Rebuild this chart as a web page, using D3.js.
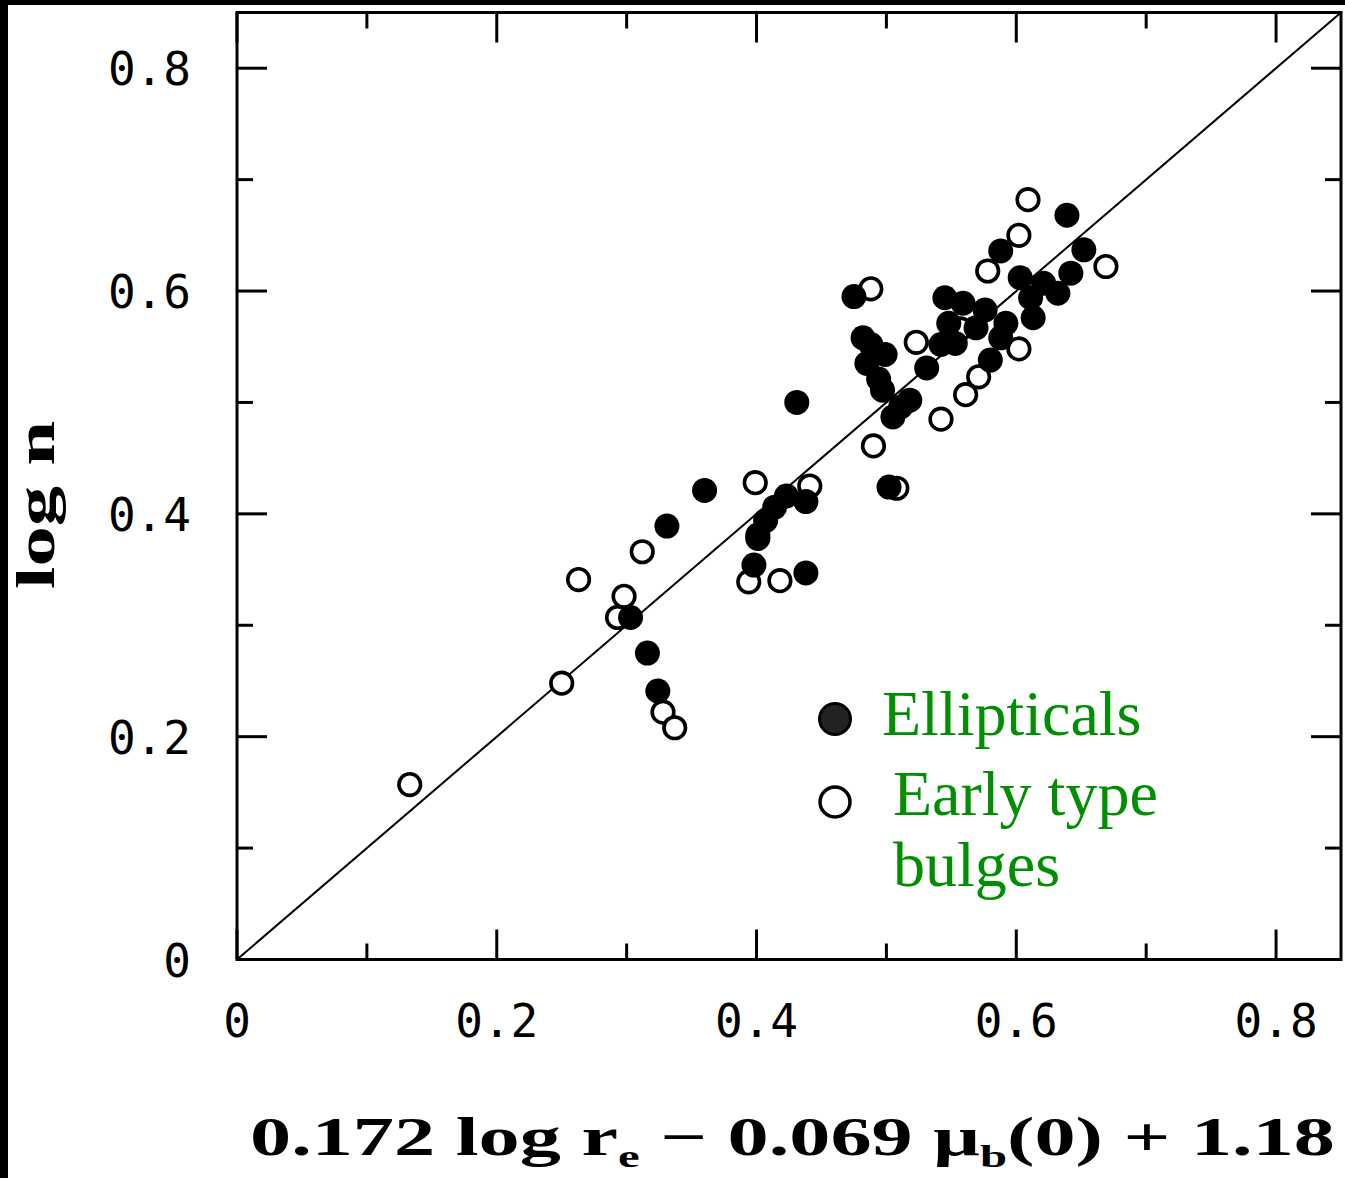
<!DOCTYPE html>
<html>
<head>
<meta charset="utf-8">
<script src="https://cdn.jsdelivr.net/npm/d3@7"></script>
<style>
  html, body { margin: 0; padding: 0; background: #fff; }
  svg { display: block; }
</style>
</head>
<body>
<svg id="chart" width="1345" height="1178"></svg>
<script>
// Ellipticals (filled symbols)
const ellX = [0.303, 0.316, 0.324, 0.331, 0.360, 0.431, 0.398, 0.438, 0.438, 0.414, 0.407, 0.401, 0.423,
              0.475, 0.488, 0.485, 0.494, 0.499, 0.502, 0.511, 0.518, 0.505, 0.531, 0.545, 0.548, 0.559,
              0.569, 0.576, 0.588, 0.580, 0.542, 0.588, 0.639, 0.603, 0.611, 0.621, 0.632, 0.642, 0.652, 0.613,
              0.482, 0.497, 0.553, 0.592];
const ellY = [0.307, 0.275, 0.241, 0.389, 0.421, 0.500, 0.354, 0.347, 0.411, 0.406, 0.394, 0.381, 0.416,
              0.595, 0.552, 0.535, 0.521, 0.543, 0.424, 0.496, 0.502, 0.487, 0.531, 0.594, 0.571, 0.589,
              0.567, 0.583, 0.558, 0.538, 0.552, 0.636, 0.668, 0.612, 0.594, 0.607, 0.598, 0.616, 0.637, 0.576,
              0.558, 0.511, 0.553, 0.571];

// Early type bulges (open symbols)
const bulgeX = [0.133, 0.250, 0.263, 0.298, 0.293, 0.312, 0.328, 0.337, 0.399, 0.394, 0.418, 0.441, 0.401,
                0.488, 0.490, 0.508, 0.523, 0.542, 0.561, 0.571, 0.578, 0.602, 0.602, 0.609, 0.669, 0.557];
const bulgeY = [0.157, 0.248, 0.341, 0.326, 0.307, 0.366, 0.222, 0.208, 0.428, 0.339, 0.340, 0.425, 0.378,
                0.602, 0.461, 0.423, 0.554, 0.485, 0.507, 0.523, 0.618, 0.548, 0.650, 0.682, 0.622, 0.566];

// Axis ticks
const majorTicks = [0, 0.2, 0.4, 0.6, 0.8];
const minorTicks = [0.1, 0.3, 0.5, 0.7];
const tickLabels = ["0", "0.2", "0.4", "0.6", "0.8"];

const svg = d3.select("#chart");

// black edge strips
svg.append("rect").attr("x", 0).attr("y", 0).attr("width", 8).attr("height", 1178).attr("fill", "#000");
svg.append("rect").attr("x", 0).attr("y", 0).attr("width", 1345).attr("height", 5).attr("fill", "#000");

const pLeft = 237, pRight = 1341, pTop = 12.5, pBottom = 959.5;
const x = d3.scaleLinear().domain([0, 0.85]).range([pLeft, pRight]);
const y = d3.scaleLinear().domain([0, 0.85]).range([pBottom, pTop]);

const g = svg.append("g");

// one-to-one relation
g.append("line")
  .attr("x1", x(0)).attr("y1", y(0))
  .attr("x2", x(0.85)).attr("y2", y(0.85))
  .attr("stroke", "#000").attr("stroke-width", 2);

// markers
const bulges = bulgeX.map((v, i) => [v, bulgeY[i]]);
const ells = ellX.map((v, i) => [v, ellY[i]]);

g.selectAll("circle.bulge").data(bulges).join("circle")
  .attr("class", "bulge")
  .attr("cx", d => x(d[0])).attr("cy", d => y(d[1])).attr("r", 10.8)
  .attr("fill", "#fff").attr("stroke", "#000").attr("stroke-width", 3.6);

g.selectAll("circle.ell").data(ells).join("circle")
  .attr("class", "ell")
  .attr("cx", d => x(d[0])).attr("cy", d => y(d[1])).attr("r", 12.5)
  .attr("fill", "#000");

// frame with ticks on all four sides
const frame = svg.append("g").attr("stroke", "#000").attr("fill", "none");
frame.append("rect")
  .attr("x", pLeft).attr("y", pTop).attr("width", pRight - pLeft).attr("height", pBottom - pTop)
  .attr("stroke-width", 3);

const LONG = 30, SHORT = 16;
const tickSets = [[majorTicks, LONG], [minorTicks, SHORT]];
tickSets.forEach(([ticks, len]) => {
  ticks.forEach(t => {
    // bottom & top
    frame.append("line").attr("x1", x(t)).attr("x2", x(t)).attr("y1", pBottom).attr("y2", pBottom - len).attr("stroke-width", 3);
    frame.append("line").attr("x1", x(t)).attr("x2", x(t)).attr("y1", pTop).attr("y2", pTop + len).attr("stroke-width", 3);
    // left & right
    frame.append("line").attr("y1", y(t)).attr("y2", y(t)).attr("x1", pLeft).attr("x2", pLeft + len).attr("stroke-width", 3);
    frame.append("line").attr("y1", y(t)).attr("y2", y(t)).attr("x1", pRight).attr("x2", pRight - len).attr("stroke-width", 3);
  });
});

// tick labels
const tickFont = "'DejaVu Sans Mono', monospace";
svg.append("g").selectAll("text").data(majorTicks).join("text")
  .attr("x", d => x(d)).attr("y", 1021)
  .attr("text-anchor", "middle").attr("dominant-baseline", "central")
  .attr("font-family", tickFont).attr("font-size", 46)
  .text((d, i) => tickLabels[i]);

svg.append("g").selectAll("text").data(majorTicks).join("text")
  .attr("x", 191).attr("y", d => y(d) + 1)
  .attr("text-anchor", "end").attr("dominant-baseline", "central")
  .attr("font-family", tickFont).attr("font-size", 46)
  .text((d, i) => tickLabels[i]);

// axis titles
const titleFont = "'Liberation Serif', 'Times New Roman', serif";
const xt = svg.append("text")
  .attr("x", 250).attr("y", 1155)
  .attr("font-family", titleFont).attr("font-weight", "bold")
  .attr("font-size", 54)
  .attr("textLength", 1085).attr("lengthAdjust", "spacingAndGlyphs");
xt.append("tspan").text("0.172 log r");
xt.append("tspan").attr("font-size", 32).attr("dy", 12).text("e");
xt.append("tspan").attr("dy", -12).text(" \u2212 0.069 \u03bc");
xt.append("tspan").attr("font-size", 32).attr("dy", 12).text("b");
xt.append("tspan").attr("dy", -12).text("(0) + 1.18");

svg.append("text")
  .attr("transform", "translate(54,505) rotate(-90)")
  .attr("text-anchor", "middle")
  .attr("font-family", titleFont).attr("font-weight", "bold")
  .attr("font-size", 54)
  .attr("textLength", 168).attr("lengthAdjust", "spacingAndGlyphs")
  .text("log n");

// legend
const legend = svg.append("g");
legend.append("circle").attr("cx", 835).attr("cy", 719).attr("r", 15.5)
  .attr("fill", "#222").attr("stroke", "#000").attr("stroke-width", 3);
legend.append("circle").attr("cx", 835).attr("cy", 802).attr("r", 15)
  .attr("fill", "#fff").attr("stroke", "#000").attr("stroke-width", 3.5);
const green = "#008f00";
const serif = "'Liberation Serif', 'Times New Roman', serif";
legend.append("text").attr("x", 882).attr("y", 735)
  .attr("font-family", serif).attr("font-size", 64).attr("fill", green).text("Ellipticals");
legend.append("text").attr("x", 893).attr("y", 815)
  .attr("font-family", serif).attr("font-size", 64).attr("fill", green).text("Early type");
legend.append("text").attr("x", 893).attr("y", 886)
  .attr("font-family", serif).attr("font-size", 64).attr("fill", green).text("bulges");
</script>
</body>
</html>
